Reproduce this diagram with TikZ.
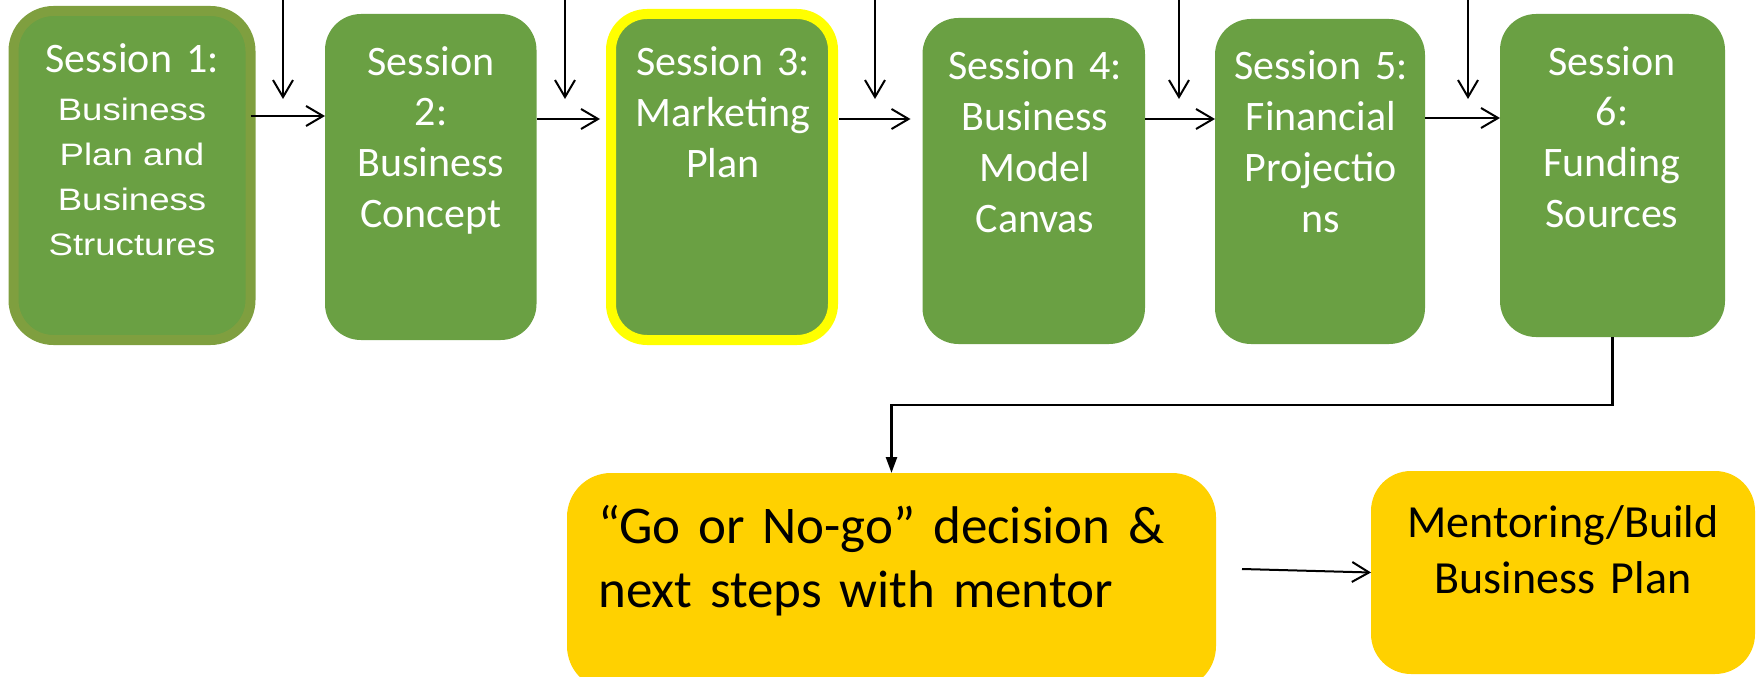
\documentclass[tikz,border=0pt]{standalone}
\usepackage{fontspec}
\setmainfont{Carlito}
\newfontfamily\arialfont[FakeStretch=1.18]{Liberation Sans}
\usetikzlibrary{arrows.meta}
\definecolor{boxgreen}{HTML}{6AA043}
\definecolor{olivegreen}{HTML}{7F9F3F}
\definecolor{gold}{HTML}{FFD100}
\definecolor{hiyellow}{HTML}{FFFF00}
\tikzset{
  sbox/.style={fill=boxgreen, inner sep=0pt, outer sep=0pt, rounded corners=36pt},
  stext/.style={text=white, inner sep=0pt, text width=240pt, align=center, anchor=base,
    font=\fontsize{42}{51}\selectfont},
  ybox/.style={fill=gold, inner sep=0pt, outer sep=0pt, rounded corners=44pt},
  arr/.style={line width=2pt, -{Straight Barb[length=17pt,width=20pt,line width=2pt]}},
  elbow/.style={line width=2.6pt, -{Triangle[length=16pt,width=11pt]}},
}
\begin{document}
\begin{tikzpicture}[x=1pt,y=-1pt]
\useasboundingbox (0,0) rectangle (1757,677);
\clip (0,0) rectangle (1757,677);
% session boxes
\node[sbox, draw=olivegreen, line width=10pt, rounded corners=40pt,
  minimum width=237pt, minimum height=329pt] (s1) at (132,175.5) {};
\node[sbox, minimum width=211.5pt, minimum height=326pt] (s2) at (430.75,177) {};
\node[sbox, draw=hiyellow, line width=10pt,
  minimum width=222pt, minimum height=326pt] (s3) at (722,177) {};
\node[sbox, minimum width=222.5pt, minimum height=326pt] (s4) at (1033.75,181) {};
\node[sbox, minimum width=210pt, minimum height=325pt] (s5) at (1320,181.5) {};
\node[sbox, minimum width=225pt, minimum height=323pt] (s6) at (1612.5,175.5) {};
% texts
\node[stext] (t1) at (132,73) {Session 1:};
\node[stext, font=\arialfont\fontsize{31}{44.7}\selectfont] (t1b) at (132,121)
  {Business\\Plan and\\Business\\Structures};
\node[stext] (t2) at (431,75) {Session\\2:\\Business\\Concept};
\node[stext] (t3) at (723,76) {Session 3:\\Marketing\\Plan};
\node[stext] (t4) at (1035,80) {Session 4:\\Business\\Model\\Canvas};
\node[stext] (t5) at (1321,80) {Session 5:\\Financial\\Projectio\\ns};
\node[stext] (t6) at (1612,75) {Session\\6:\\Funding\\Sources};
% horizontal arrows
\draw[arr] (s1.east |- 0,116) -- (s2.west |- 0,116);
\draw[arr] (s2.east |- 0,119) -- ([xshift=-11pt]s3.west |- 0,119);
\draw[arr] ([xshift=6pt]s3.east |- 0,119) -- ([xshift=-12pt]s4.west |- 0,119);
\draw[arr] (s4.east |- 0,119) -- (s5.west |- 0,119);
\draw[arr] (s5.east |- 0,118) -- (s6.west |- 0,118);
% vertical arrows from top
\foreach \x/\n in {283/a,565/b,875/c,1179/d,1468/e}{
  \coordinate (top\n) at (\x,-2);
  \coordinate (end\n) at (\x,99);
  \draw[arr] (top\n) -- (end\n);
}
% bottom boxes
\node[ybox, minimum width=649pt, minimum height=217pt] (g) at (891.5,581.5) {};
\node[ybox, rounded corners=40pt, minimum width=384pt, minimum height=203pt] (m) at (1563,572.5) {};
\node[inner sep=0pt, text width=640pt, align=left, anchor=base west,
  font=\fontsize{53}{64}\selectfont] (gt) at (598,543)
  {``Go or No-go'' decision \&\\next steps with mentor};
\node[inner sep=0pt, text width=380pt, align=center, anchor=base,
  font=\fontsize{46}{56}\selectfont] (mt) at (1563,537)
  {Mentoring/Build\\Business Plan};
% connectors
\draw[elbow] (s6.south) -- ++(0,68) -| (g.north);
\coordinate (gm) at (1242,569);
\draw[arr] (gm) -- (m.west);
\end{tikzpicture}
\end{document}
